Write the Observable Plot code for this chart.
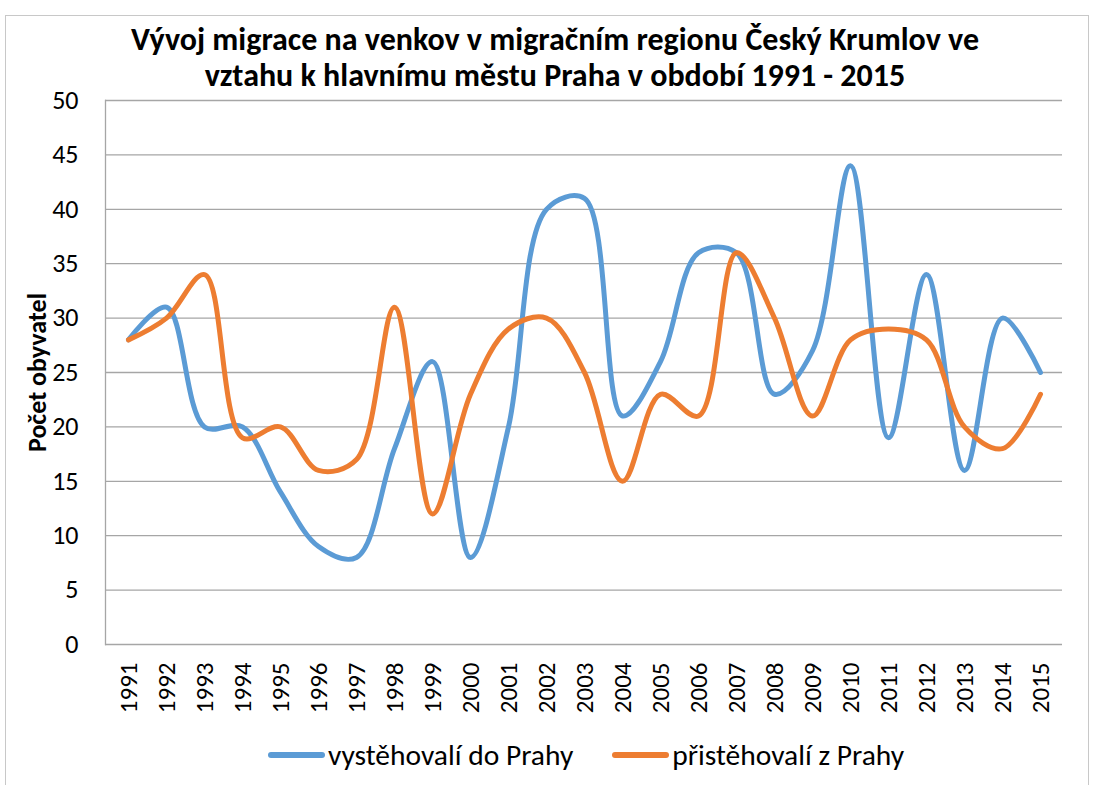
<!DOCTYPE html>
<html>
<head>
<meta charset="utf-8">
<script src="https://cdn.jsdelivr.net/npm/d3@7"></script>
<script src="https://cdn.jsdelivr.net/npm/@observablehq/plot@0.6"></script>
<style>
  html, body { margin: 0; padding: 0; background: #fff; }
  #wrap { position: relative; width: 1096px; height: 785px; overflow: hidden; font-family: Carlito, Calibri, Lato, "Open Sans", sans-serif; }
  #border { position: absolute; left: 5px; top: 15px; width: 1084px; height: 800px; border: 1px solid #c8c8c8; box-sizing: border-box; }
  #title { position: absolute; left: 0; width: 1110px; top: 22px; text-align: center; font-weight: bold; font-size: 32px; line-height: 36px; color: #000; }
  #chart { position: absolute; left: 0; top: 0; width: 1096px; }
  #legend { position: absolute; top: 737px; left: 268px; display: flex; align-items: center; font-size: 29.5px; color: #000; }
  .sw { display: inline-block; width: 57px; height: 6px; border-radius: 3px; margin-right: 3px; }
  .item { display: flex; align-items: center; margin-right: 39px; }
</style>
</head>
<body>
<div id="wrap">
  <div id="border"></div>
  <div id="chart"></div>
  <div id="title">Vývoj migrace na venkov v migračním regionu Český Krumlov ve<br>vztahu k hlavnímu městu Praha v období 1991 - 2015</div>
  <div id="legend"></div>
</div>
<script>
const years = ["1991","1992","1993","1994","1995","1996","1997","1998","1999","2000","2001","2002","2003","2004","2005","2006","2007","2008","2009","2010","2011","2012","2013","2014","2015"];
const vystehovali = [28,31,20,20,14,9,8,18,26,8,20,40,41,21,26,36,36,23,27,44,19,34,16,30,25];
const pristehovali = [28,30,34,19,20,16,17,31,12,23,29,30,25,15,23,21,36,30,21,28,29,28,20,18,23];
const seriesNames = ["vystěhovalí do Prahy", "přistěhovalí z Prahy"];
const seriesColors = ["#5B9BD5", "#ED7D31"];
const yTicks = [0,5,10,15,20,25,30,35,40,45,50];
const yTitle = "Počet obyvatel";

const rows = [];
years.forEach((yr, i) => {
  rows.push({year: yr, value: vystehovali[i], series: seriesNames[0]});
  rows.push({year: yr, value: pristehovali[i], series: seriesNames[1]});
});

const font = "Carlito, Calibri, Lato, 'Open Sans', sans-serif";

const plot = Plot.plot({
  width: 1096,
  height: 720,
  marginTop: 100,
  marginLeft: 105,
  marginRight: 34,
  marginBottom: 76,
  style: {fontFamily: font, fontSize: "26px", color: "#000", background: "transparent", overflow: "visible"},
  x: {type: "point", domain: years, padding: 0.5, label: null},
  y: {domain: [0, 50], label: null},
  color: {domain: seriesNames, range: seriesColors},
  marks: [
    Plot.ruleY(yTicks, {stroke: "#a6a6a6", strokeWidth: 1.3}),
    Plot.frame({anchor: "left", stroke: "#a6a6a6", strokeWidth: 1.3}),
    Plot.axisY(yTicks, {tickSize: 0, tickPadding: 27, fontSize: 26, label: null}),
    Plot.axisX({tickSize: 0, tickRotate: -90, tickPadding: 18, fontSize: 25, label: null}),
    Plot.text([yTitle], {frameAnchor: "left", dx: -68, rotate: -90, textAnchor: "middle", fontWeight: "bold", fontSize: 26, text: d => d}),
    Plot.line(rows, {x: "year", y: "value", z: "series", stroke: "series", strokeWidth: 5, curve: "catmull-rom", strokeLinecap: "round", strokeLinejoin: "round"})
  ]
});
document.getElementById("chart").appendChild(plot);

const legend = document.getElementById("legend");
seriesNames.forEach((n, i) => {
  const it = document.createElement("div");
  it.className = "item";
  const sw = document.createElement("span");
  sw.className = "sw";
  sw.style.background = seriesColors[i];
  const t = document.createElement("span");
  t.textContent = n;
  it.appendChild(sw); it.appendChild(t);
  legend.appendChild(it);
});
</script>
</body>
</html>
